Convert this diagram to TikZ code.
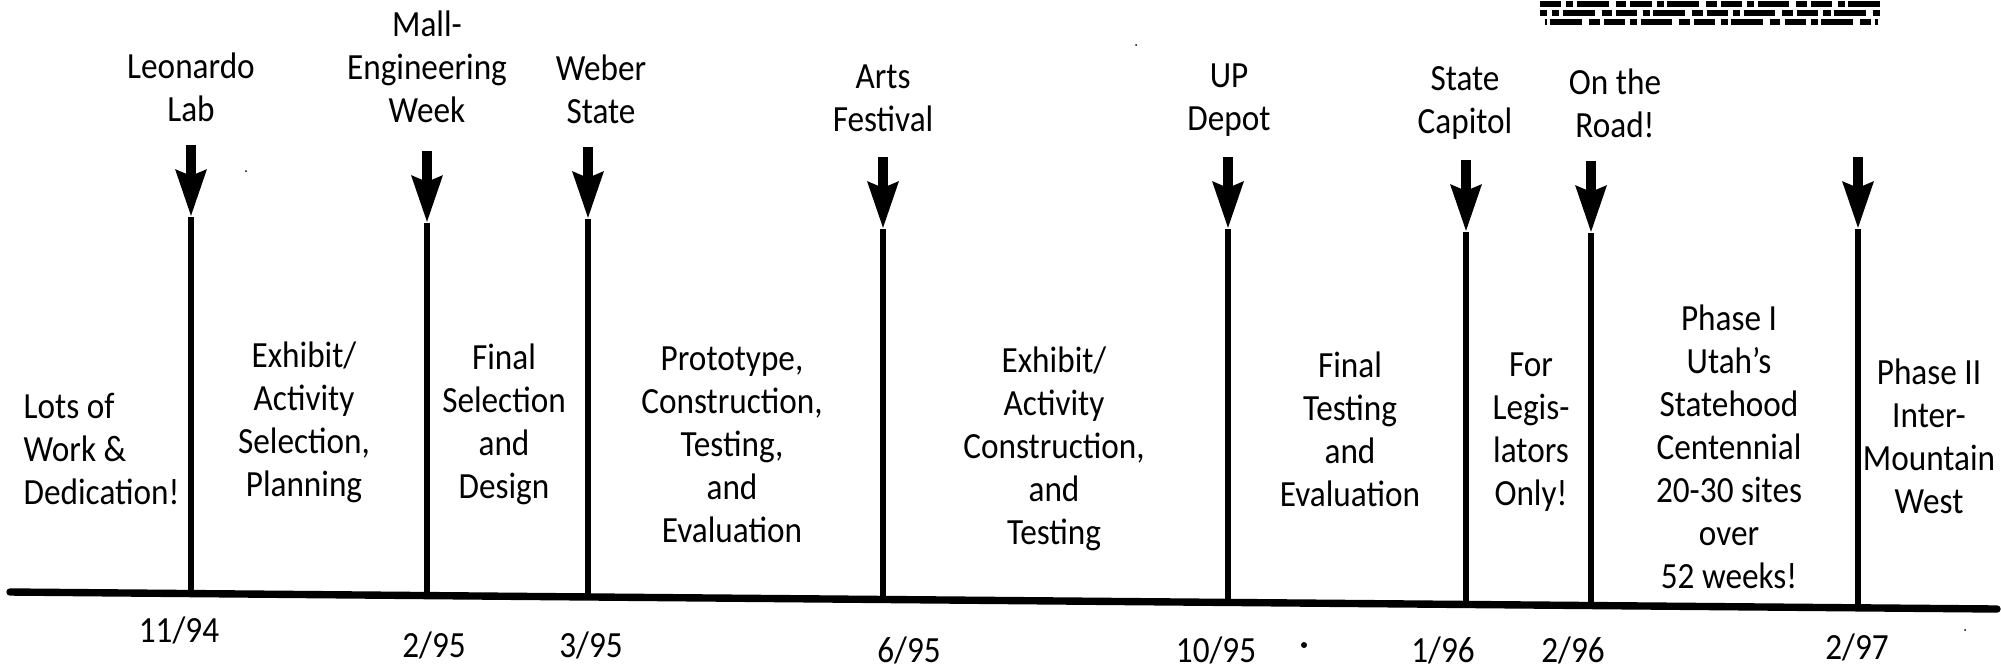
\documentclass[tikz,border=0pt]{standalone}
\usepackage{fontspec}
\setmainfont{Carlito}[FakeStretch=0.9]
\usetikzlibrary{arrows.meta}
\begin{document}
\begin{tikzpicture}[x=0.01cm,y=-0.01cm,
  lbl/.style={font=\fontsize{10.5}{12.2}\selectfont, align=center, inner sep=0pt},
  datelbl/.style={font=\fontsize{10.5}{12}\selectfont, inner sep=0pt},
  shaft/.style={line width=3.1pt, -{Stealth[length=0.46cm,width=0.29cm,inset=0.05cm]}},
  tick/.style={line width=1.5pt},
  axis/.style={line width=2.1pt, line cap=round},
  noise/.style={line width=1.6pt, dash pattern=on 6pt off 1.5pt on 2pt off 1pt on 9pt off 2pt on 3pt off 1.2pt}]
\useasboundingbox (0,0) rectangle (2001,669);
\fill[white] (0,0) rectangle (2001,669);

% baseline
\coordinate (L) at (10,592);
\coordinate (R) at (1997,609);
\draw[axis] (L) -- (R);

% event labels
\node[lbl] (ev1) at (191,87) {Leonardo\\Lab};
\node[lbl] (ev2) at (427,67) {Mall-\\Engineering\\Week};
\node[lbl] (ev3) at (601,89) {Weber\\State};
\node[lbl] (ev4) at (883,98) {Arts\\Festival};
\node[lbl] (ev5) at (1229,100) {UP\\Depot};
\node[lbl] (ev6) at (1465,103) {State\\Capitol};
\node[lbl] (ev7) at (1615,103) {On the\\Road!};

% arrows and ticks
\foreach \i/\x/\t/\b in {1/191/145/593.5, 2/427/151/595.6, 3/588/147/597, 4/883/157/599.5,
                         5/1228/157/602.4, 6/1466/160/604.5, 7/1591/161/605.5, 8/1858/157/607.8}{
  \coordinate (t\i) at (\x,\t);
  \coordinate (h\i) at (\x,\t+72);
  \coordinate (b\i) at (\x,\b);
  \draw[shaft] (t\i) -- (h\i);
  \draw[tick] (h\i) -- (b\i);
}

% phase texts
\node[lbl, align=left, anchor=west] (p1) at (23,449) {Lots of\\Work \&\\Dedication!};
\node[lbl] (p2) at (304,422) {Exhibit/\\Activity\\Selection,\\Planning};
\node[lbl] (p3) at (504,424) {Final\\Selection\\and\\Design};
\node[lbl] (p4) at (732,445) {Prototype,\\Construction,\\Testing,\\and\\Evaluation};
\node[lbl] (p5) at (1054,449) {Exhibit/\\Activity\\Construction,\\and\\Testing};
\node[lbl] (p6) at (1350,429) {Final\\Testing\\and\\Evaluation};
\node[lbl] (p7) at (1531,432) {For\\Legis-\\lators\\Only!};
\node[lbl] (p8) at (1729,447) {Phase I\\Utah’s\\Statehood\\Centennial\\20-30 sites\\over\\52 weeks!};
\node[lbl] (p9) at (1929,436) {Phase II\\Inter-\\Mountain\\West};

% dates
\node[datelbl] (d1) at (179,630) {11/94};
\node[datelbl] (d2) at (434,645) {2/95};
\node[datelbl] (d3) at (591,645) {3/95};
\node[datelbl] (d4) at (909,650) {6/95};
\node[datelbl] (d5) at (1216,650) {10/95};
\node[datelbl] (d6) at (1443,650) {1/96};
\node[datelbl] (d7) at (1573,650) {2/96};
\node[datelbl] (d8) at (1857,647) {2/97};

% stray marks
\fill (1304,645) circle (3);
\fill (246,171) circle (1);
\fill (1136,45) circle (1);
\fill (1965,630) circle (1);

% noisy scanned text at top right
\draw[noise] (1540,4) -- (1880,4);
\draw[noise, dash phase=4pt] (1540,13) -- (1880,13);
\draw[noise, dash phase=9pt] (1545,22) -- (1878,22);
\end{tikzpicture}
\end{document}
